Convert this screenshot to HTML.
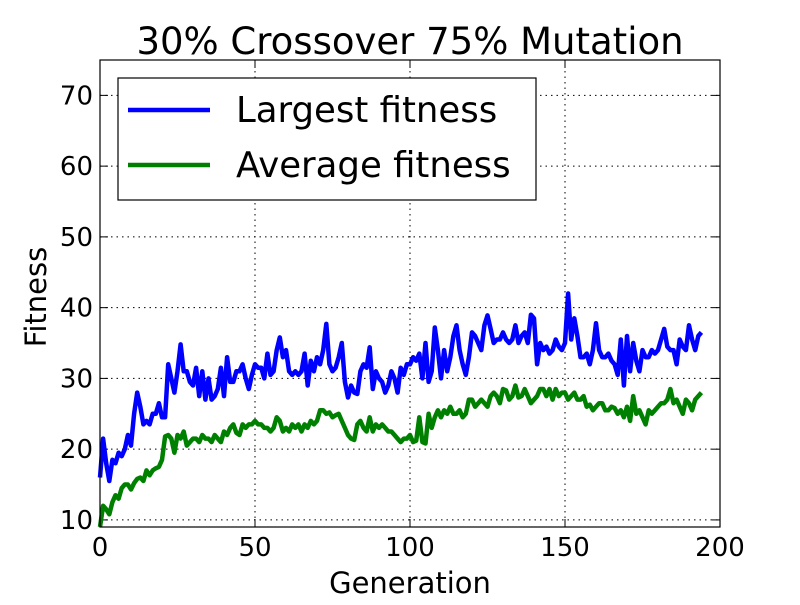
<!DOCTYPE html>
<html><head><meta charset="utf-8"><style>
body{margin:0;background:#fff;width:800px;height:600px;overflow:hidden}
svg text{font-family:"DejaVu Sans","Liberation Sans",sans-serif;fill:#000}
</style></head><body>
<svg id="chart" width="800" height="600" xmlns="http://www.w3.org/2000/svg">
<rect width="800" height="600" fill="#fff"/>
<text x="410" y="54" font-size="37" text-anchor="middle">30% Crossover 75% Mutation</text>
<g id="grid"></g>
<g id="ticks"></g>
<path id="largest" fill="none" stroke="#0000ff" stroke-width="4.5" stroke-linejoin="round"/>
<path id="average" fill="none" stroke="#008000" stroke-width="4.5" stroke-linejoin="round"/>
<rect x="100" y="60" width="620" height="467" fill="none" stroke="#000" stroke-width="1.2"/>
<text x="410" y="593" font-size="29" text-anchor="middle">Generation</text>
<text x="46" y="297" font-size="29" text-anchor="middle" transform="rotate(-90 46 297)">Fitness</text>
<g>
<rect x="118" y="78" width="418" height="122" fill="#fff" stroke="#000" stroke-width="1.2"/>
<line x1="128" y1="110" x2="210" y2="110" stroke="#0000ff" stroke-width="4.5"/>
<text x="236" y="122" font-size="35.5">Largest fitness</text>
<line x1="128" y1="165" x2="210" y2="165" stroke="#008000" stroke-width="4.5"/>
<text x="236" y="177" font-size="35.5">Average fitness</text>
</g>
</svg>
<script>
const xTicks=[0,50,100,150,200];
const yTicks=[10,20,30,40,50,60,70];
const largest=[16,21.5,18,15.5,18.5,18,19.5,19,20,22,
20.5,25,28,26,23.5,24,23.5,25,25,26.5,
24.5,24.5,32,30,28,31,34.8,31,31,29.5,
29,31.5,27.5,31,27,30,27,27.5,28.5,31.5,
27.5,33,29.5,29.5,31,31,32,30,28.5,30.5,
32,31.5,31.5,30,33.5,30.5,31,34,35.8,33,
34,31,30.5,31,30.5,31,33.5,29,32.5,31,
33,32,34,37.7,32,31,31.5,33,35,29.5,
27.3,29,28,27.8,31,32,31.5,34.4,28.5,31,
30,29.5,28,29,31,30,28,31.5,30.5,32,
32,33,32.5,33.5,30,35,29.5,31,37.2,34,
30,34,31,33,36,37.5,34,32,30.5,33,
36.5,36,35,34,37.5,38.9,37,35,35.5,35.5,
36.5,35.5,35,35.5,37.5,35,36,36.5,35,39,
38.5,32,35,34,34.5,33.5,34,35.5,34.5,34,
35,42,35.5,38.5,36,33,33,33.5,32,34,
37.8,34,33,33,33.5,32.5,32,30.5,35.5,29,
36,31,35,32.5,31,34,33,33,34,33.5,
34,35.5,37,34.5,34,34,32,35.5,34.5,34,
37.5,35.5,34,36,36.5];
const average=[9,12,11.5,10.8,12.5,13.5,13,14.5,15,15,
14.3,15.2,15.8,16,15.5,17,16.3,17,17.3,17.5,
18.5,21.8,22,21.5,19.5,22,21.5,22.5,20.5,21,
21.5,21.5,21,22,21.5,21.5,21,22,21.5,21,
22.5,22,23,23.5,22.3,22,23.5,23,23.5,23.5,
24,23.5,23.5,23,23,22.5,23,24.5,24,22.5,
23,22.5,23.5,23,23.5,22.5,23.5,23,24,23.5,
24,25.5,25.5,25,25.2,24.5,24.8,25,24,23,
22,21.5,21.3,23.5,24,23,22.5,24.5,22.5,23.5,
23,23.5,23,22.5,22.5,22,21.5,21,21.5,21.5,
22,21,21.2,24.5,21,20.8,25,23,24.5,25.5,
24.5,25.5,25,26,25,25,25.5,24.5,25,27,
27,26,26.5,27,26.5,26,27.5,28,27.5,26.5,
28.5,28.3,27,27.5,29,27.3,27.5,28.5,27.5,26.5,
27,27.5,28.5,28.5,27.5,28.5,27,28.5,27.5,28,
28,27,27.5,28,27,27,27.5,26,26.3,25.5,
26,26.5,26.5,25.5,25.5,26,25.8,25,25.5,24.5,
26,24,27.5,25,25.5,24.5,23.5,25.5,25,25.5,
26,26.5,26.5,27,28.5,26.5,27,26,25,27,
26.5,25.5,27,27.5,28];
const X0=100,X1=720,Y0=527,Y1=60,XMIN=0,XMAX=200,YMIN=9,YMAX=75;
function sx(v){return X0+(v-XMIN)/(XMAX-XMIN)*(X1-X0);}
function sy(v){return Y0-(v-YMIN)/(YMAX-YMIN)*(Y0-Y1);}
const NS='http://www.w3.org/2000/svg';
const grid=document.getElementById('grid'),ticks=document.getElementById('ticks');
function mk(tag,attrs,parent){const e=document.createElementNS(NS,tag);for(const k in attrs)e.setAttribute(k,attrs[k]);parent.appendChild(e);return e;}
xTicks.forEach(t=>{
  const x=sx(t);
  const g=mk('line',{x1:x,y1:Y1,x2:x,y2:Y0,stroke:'#000','stroke-width':1,'stroke-dasharray':'1.5,4'},grid);
  
  
  mk('line',{x1:x,y1:Y0,x2:x,y2:Y0-8,stroke:'#000'},ticks);
  mk('line',{x1:x,y1:Y1,x2:x,y2:Y1+8,stroke:'#000'},ticks);
  const l=mk('text',{x:x,y:Y0+29,'font-size':26,'text-anchor':'middle'},ticks);
  l.textContent=t;
  
  
});
yTicks.forEach(t=>{
  const y=sy(t);
  const g=mk('line',{x1:X0,y1:y,x2:X1,y2:y,stroke:'#000','stroke-width':1,'stroke-dasharray':'1.5,4'},grid);
  
  
  mk('line',{x1:X0,y1:y,x2:X0+8,y2:y,stroke:'#000'},ticks);
  mk('line',{x1:X1,y1:y,x2:X1-8,y2:y,stroke:'#000'},ticks);
  const l=mk('text',{x:X0-7,y:y+9,'font-size':26,'text-anchor':'end'},ticks);
  l.textContent=t;
  
  
});
function path(arr){return arr.map((v,i)=>(i?'L':'M')+sx(i).toFixed(1)+','+sy(v).toFixed(1)).join('');}
document.getElementById('largest').setAttribute('d',path(largest));
document.getElementById('average').setAttribute('d',path(average));
</script>
</body></html>
